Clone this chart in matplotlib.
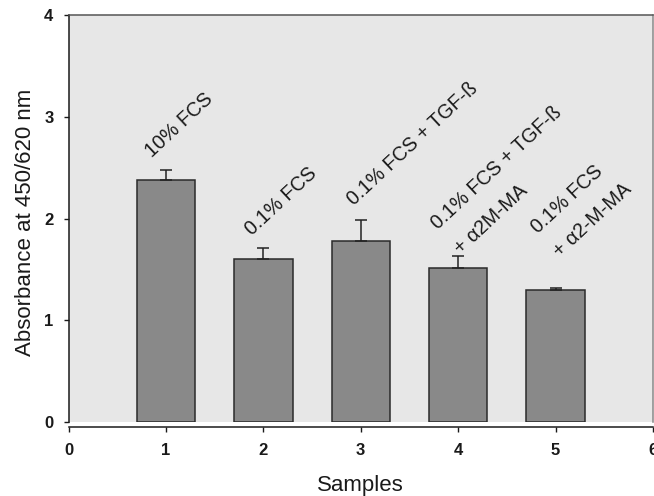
import matplotlib
matplotlib.use("Agg")
import matplotlib.pyplot as plt

plt.rcParams['font.family'] = ['Liberation Sans', 'DejaVu Sans']

# Data
samples = [1, 2, 3, 4, 5]
absorbance = [2.38, 1.60, 1.78, 1.52, 1.295]
err_upper = [0.10, 0.11, 0.21, 0.11, 0.025]
labels = ["10% FCS",
          "0.1% FCS",
          "0.1% FCS + TGF-ß",
          "0.1% FCS + TGF-ß\n+ α2M-MA",
          "0.1% FCS\n+ α2-M-MA"]
# anchor = start of the last line's baseline
label_x = [0.86, 1.88, 2.93, 3.93, 4.95]
label_y = [2.60, 1.83, 2.12, 1.75, 1.715]
x_ticks = [0, 1, 2, 3, 4, 5, 6]
y_ticks = [0, 1, 2, 3, 4]

fig = plt.figure(figsize=(6.54, 4.96), dpi=100)
L, R = 68.5 / 654, 653 / 654
B, T = (496 - 422.3) / 496, (496 - 15) / 496
ax = fig.add_axes([L, B, R - L, T - B])
ax.set_facecolor('#e7e7e7')

ax.bar(samples, absorbance, width=0.6, color='#898989', edgecolor='#2a2a2a',
       linewidth=1.1, zorder=2)
ax.errorbar(samples, absorbance, yerr=[[0] * len(samples), err_upper],
            fmt='none', ecolor='#222222', elinewidth=1.1, capsize=4.5,
            capthick=1.1, zorder=3)

for x, y, t in zip(label_x, label_y, labels):
    ax.text(x, y, t, rotation=43, rotation_mode='anchor', ha='left',
            va='baseline', fontsize=14.2, color='#1a1a1a', linespacing=1.95,
            zorder=4)

ax.set_xlim(0, 6)
ax.set_ylim(0, 4)

ax.spines['bottom'].set_position(('outward', 3.6))
ax.spines['bottom'].set_color('#1a1a1a')
ax.spines['left'].set_color('#1a1a1a')
ax.spines['top'].set_color('#555555')
ax.spines['right'].set_color('#888888')
for s in ax.spines.values():
    s.set_linewidth(1.1)

ax.set_xticks(x_ticks)
ax.set_yticks(y_ticks)
ax.tick_params(axis='x', direction='out', length=3.8, width=1.0, pad=7.5,
               labelsize=12, colors='#1a1a1a')
ax.tick_params(axis='y', direction='out', length=3.8, width=1.0, pad=7,
               labelsize=12, colors='#1a1a1a')
plt.setp(ax.get_xticklabels() + ax.get_yticklabels(), fontweight='bold')

ax.set_ylabel("Absorbance at 450/620 nm", fontsize=16, color='#1a1a1a')
ax.yaxis.set_label_coords(-0.056, 0.49)
fig.text((L + R) / 2, 1 - 485 / 496, "Samples", ha='center', va='center',
         fontsize=16, color='#1a1a1a')

fig.savefig("out.png", dpi=100)
